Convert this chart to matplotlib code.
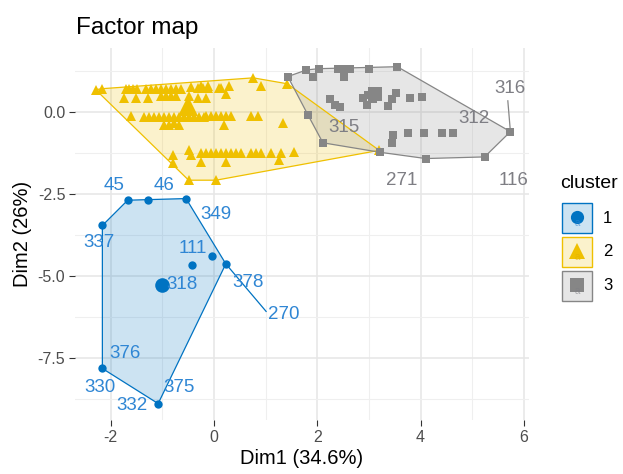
import numpy as np
import matplotlib
matplotlib.use("Agg")
import matplotlib.pyplot as plt
from matplotlib.patches import Polygon, Rectangle

plt.rcParams['font.family'] = ['Liberation Sans', 'DejaVu Sans']

# ---------------- data ----------------
colors = {"1": "#0073C2", "2": "#EFC000", "3": "#868686"}
text_colors = {"1": "#2F86D4", "2": "#E0B000", "3": "#7E7E84"}

c1_x = [-1.67, -1.28, -0.54, -2.16, -0.04, -0.43, 0.23, -1.00, -2.16, -1.08]
c1_y = [-2.70, -2.70, -2.65, -3.47, -4.41, -4.67, -4.64, -5.27, -7.83, -8.90]

c2_x = [-2.29, -2.16, -1.71, -1.65, -1.57, -1.48, -1.32, -1.22, -1.13, -1.03, -0.93, -0.83,
        -0.74, -0.64, -0.45, -0.31, -0.21, -0.12, -0.25, -0.12, 0.10, 0.14, 0.29, 0.76, 0.91, 1.42,
        -1.75, -1.51, -1.28, -1.03, -0.93, -0.83, -0.74, -0.49, -0.31, -0.16, 0.23,
        -1.61, -1.36, -1.26, -1.17, -1.07, -0.97, -0.87, -0.78, -0.68, -0.58, -0.49, -0.39, -0.29,
        -0.19, -0.16, -0.06, 0.04, 0.14, 0.23, 0.33, 0.72, 0.85,
        -0.97, -0.87, -0.78, -0.68, 0.19, 1.34,
        -0.80, -0.49, -0.45, -0.25, -0.16, -0.06, 0.04, 0.14, 0.23, 0.33, 0.43, 0.52, 0.72, 0.82,
        0.91, 1.11, 1.30, 1.55,
        -0.80, -0.25, 0.23, 1.26, -0.49, 0.04, 3.20]
c2_y = [0.67, 0.70, 0.70, 0.70, 0.70, 0.70, 0.70, 0.70, 0.70, 0.70, 0.70, 0.70,
        0.70, 0.70, 0.74, 0.73, 0.73, 0.73, 0.79, 0.79, 0.73, 0.73, 0.79, 1.03, 0.79, 0.85,
        0.42, 0.42, 0.42, 0.48, 0.48, 0.48, 0.48, 0.48, 0.42, 0.42, 0.55,
        -0.12, -0.17, -0.17, -0.17, -0.17, -0.17, -0.17, -0.17, -0.17, -0.17, -0.17, -0.17, -0.17,
        -0.17, -0.12, -0.12, -0.12, -0.12, -0.12, -0.12, -0.12, -0.12,
        -0.42, -0.42, -0.36, -0.42, -0.42, -0.36,
        -1.33, -1.18, -1.33, -1.27, -1.27, -1.27, -1.27, -1.27, -1.27, -1.27, -1.27, -1.27, -1.27, -1.27,
        -1.27, -1.27, -1.27, -1.24,
        -1.58, -1.55, -1.55, -1.48, -2.09, -2.09, -1.18]

c3_x = [1.43, 1.79, 1.92, 2.03, 2.40, 2.50, 2.63, 2.52, 3.00, 3.55,
        2.24, 2.34, 2.45, 2.89, 2.98, 3.11, 3.18, 3.08, 2.97, 3.37, 3.44, 3.53, 3.79, 4.02,
        1.82, 2.11, 3.47, 3.44, 3.75, 4.07, 4.41, 4.62, 4.10, 5.24, 5.74, 3.22]
c3_y = [1.07, 1.27, 1.07, 1.31, 1.31, 1.31, 1.31, 1.07, 1.31, 1.37,
        0.40, 0.20, 0.13, 0.43, 0.51, 0.57, 0.46, 0.38, 0.20, 0.18, 0.40, 0.58, 0.43, 0.46,
        -0.10, -0.95, -0.71, -0.95, -0.65, -0.65, -0.65, -0.65, -1.43, -1.38, -0.61, -1.24]

centroids_x = [-1.00, -0.51, 3.11]
centroids_y = [-5.27, 0.18, 0.54]

# point labels: (text, label x, label y, cluster)
label_text = ["45", "46", "349", "337", "111", "318", "378", "270", "376", "330", "332", "375",
              "316", "312", "315", "271", "116"]
label_x = [-1.94, -0.97, 0.04, -2.23, -0.41, -0.62, 0.66, 1.36, -1.73, -2.21, -1.59, -0.68,
           5.74, 5.03, 2.52, 3.63, 5.81]
label_y = [-2.24, -2.24, -3.15, -4.00, -4.18, -5.27, -5.21, -6.18, -7.36, -8.42, -8.97, -8.42,
           0.70, -0.21, -0.48, -2.09, -2.09]
label_cluster = ["1"] * 12 + ["3"] * 5

# repel segments
seg_x0 = [0.23, 5.74]
seg_y0 = [-4.64, -0.61]
seg_x1 = [1.01, 5.69]
seg_y1 = [-6.09, 0.33]
seg_cluster = ["1", "3"]

cluster_names = ["1", "2", "3"]
markers = {"1": "o", "2": "^", "3": "s"}


def convex_hull(xs, ys):
    pts = sorted(set(zip(xs, ys)))
    if len(pts) <= 2:
        return pts

    def cross(o, a, b):
        return (a[0] - o[0]) * (b[1] - o[1]) - (a[1] - o[1]) * (b[0] - o[0])

    lower = []
    for p in pts:
        while len(lower) >= 2 and cross(lower[-2], lower[-1], p) <= 0:
            lower.pop()
        lower.append(p)
    upper = []
    for p in reversed(pts):
        while len(upper) >= 2 and cross(upper[-2], upper[-1], p) <= 0:
            upper.pop()
        upper.append(p)
    return lower[:-1] + upper[:-1]


W, H = 623, 474
fig = plt.figure(figsize=(W / 100, H / 100), dpi=100)
L, R, T, B = 75, 529, 48, 420
ax = fig.add_axes([L / W, 1 - B / H, (R - L) / W, (B - T) / H])

ax.set_xlim(-2.69, 6.10)
ax.set_ylim(-9.40, 1.94)

ax.set_xticks([-2, 0, 2, 4, 6])
ax.set_xticks([-1, 1, 3, 5], minor=True)
ax.set_yticks([0.0, -2.5, -5.0, -7.5])
ax.set_yticks([1.25, -1.25, -3.75, -6.25, -8.75], minor=True)
ax.set_xticklabels(["-2", "0", "2", "4", "6"])
ax.set_yticklabels(["0.0", "-2.5", "-5.0", "-7.5"])
ax.grid(which="major", color="#E6E6E6", linewidth=1.1)
ax.grid(which="minor", color="#EFEFEF", linewidth=0.8)
ax.set_axisbelow(True)
for s in ax.spines.values():
    s.set_visible(False)
ax.tick_params(which="major", length=4, width=0.8, color="#333333",
               labelsize=11.5, labelcolor="#4D4D4D", pad=3)
ax.tick_params(which="minor", length=0)

data = {"1": (c1_x, c1_y), "2": (c2_x, c2_y), "3": (c3_x, c3_y)}

for i, c in enumerate(cluster_names):
    xs, ys = data[c]
    hull = convex_hull(xs, ys)
    ax.add_patch(Polygon(hull, closed=True, facecolor=colors[c], alpha=0.2,
                         edgecolor="none", zorder=1))
    ax.add_patch(Polygon(hull, closed=True, facecolor="none",
                         edgecolor=colors[c], linewidth=0.9, zorder=2))

for i, c in enumerate(cluster_names):
    xs, ys = data[c]
    ms = {"1": 6.0, "2": 7.0, "3": 6.2}[c]
    ax.plot(xs, ys, linestyle="none", marker=markers[c], color=colors[c],
            markersize=ms, markeredgewidth=0, zorder=3)
    cms = {"1": 10.5, "2": 15, "3": 10}[c]
    ax.plot([centroids_x[i]], [centroids_y[i]], linestyle="none", marker=markers[c],
            color=colors[c], markersize=cms, markeredgewidth=0, zorder=3)

for x0, y0, x1, y1, c in zip(seg_x0, seg_y0, seg_x1, seg_y1, seg_cluster):
    ax.plot([x0, x1], [y0, y1], color=colors[c], linewidth=0.9, zorder=3)

for t, x, y, c in zip(label_text, label_x, label_y, label_cluster):
    ax.text(x, y, t, color=text_colors[c], fontsize=13.5, ha="center", va="center", zorder=4)

ax.set_xlabel("Dim1 (34.6%)", fontsize=14.5, color="black", labelpad=3)
ax.set_ylabel("Dim2 (26%)", fontsize=14.5, color="black", labelpad=4)

fig.text(76 / W, 1 - 28 / H, "Factor map", fontsize=17.5, ha="left", va="center")

# legend (manual, pixel coordinates)
lax = fig.add_axes([0, 0, 1, 1])
lax.set_xlim(0, W)
lax.set_ylim(H, 0)
lax.axis("off")
lax.text(560, 183, "cluster", fontsize=14, ha="left", va="center")
for i, c in enumerate(cluster_names):
    y0 = 203 + i * 34
    lax.add_patch(Rectangle((562, y0), 30, 30, facecolor=colors[c], alpha=0.2, edgecolor="none"))
    lax.add_patch(Rectangle((562, y0), 30, 30, facecolor="none", edgecolor=colors[c], linewidth=1.0))
    lax.plot([577], [y0 + 14], marker=markers[c], color=colors[c],
             markersize=9.5 if c != "2" else 12, markeredgewidth=0, linestyle="none")
    lax.text(577, y0 + 20, "a", color=text_colors[c], fontsize=7, ha="center", va="center", alpha=0.6)
    lax.text(603, y0 + 15, c, fontsize=12, ha="left", va="center", color="black")

fig.savefig("out.png", dpi=100)
